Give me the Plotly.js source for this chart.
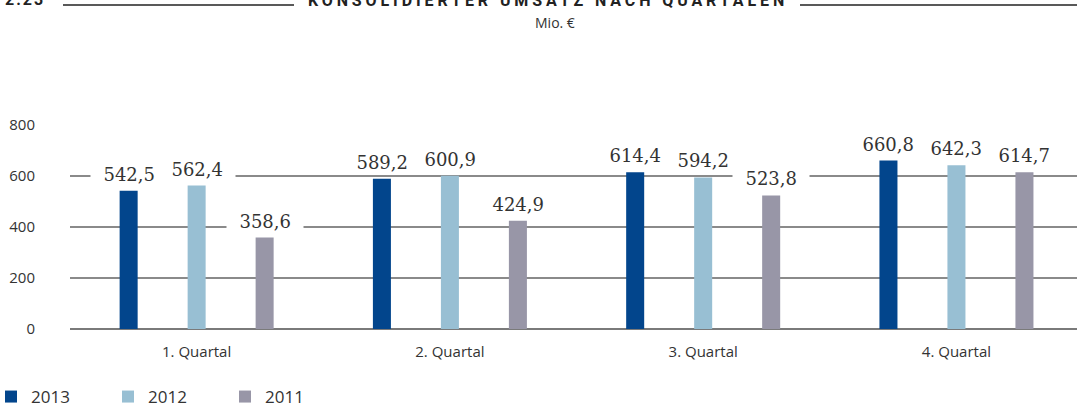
<!DOCTYPE html>
<html>
<head>
<meta charset="utf-8">
<script src="https://cdn.plot.ly/plotly-3.0.1.min.js"></script>
<style>
  html, body { margin: 0; padding: 0; background: #fff; }
  #chart { width: 1077px; height: 403px; }
  .gtitle { letter-spacing: 3.9px; }
  .annotation[data-index="0"] text { letter-spacing: 2px; }
</style>
</head>
<body>
<div id="chart"></div>
<script>
// ---- data ----
var categories = ['1. Quartal', '2. Quartal', '3. Quartal', '4. Quartal'];
var seriesNames = ['2013', '2012', '2011'];
var values2013 = [542.5, 589.2, 614.4, 660.8];
var values2012 = [562.4, 600.9, 594.2, 642.3];
var values2011 = [358.6, 424.9, 523.8, 614.7];
var yTicks = [0, 200, 400, 600, 800];
var chartNumber = '2.23';
var chartTitle = 'KONSOLIDIERTER UMSATZ NACH QUARTALEN';
var unitLabel = 'Mio. €';

// ---- style ----
var colors = ['#02458C', '#98BFD3', '#9896A7'];
var W = 1077, H = 403;
var margin = {l: 70, r: 0, t: 125, b: 74, autoexpand: false};
var bargap = 0.1946, bargroupgap = 0.735;
var allSeries = [values2013, values2012, values2011];

var traces = allSeries.map(function (vals, i) {
  return {
    type: 'bar',
    name: seriesNames[i],
    x: categories,
    y: vals,
    marker: {color: colors[i]},
    hoverinfo: 'none'
  };
});

function fmt(v) { return v.toFixed(1).replace('.', ','); }

var slot = (1 - bargap) / allSeries.length;
var annotations = [];
var plotW = W - margin.l - margin.r, plotH = H - margin.t - margin.b;
function px2paperX(px) { return (px - margin.l) / plotW; }
function px2paperY(py) { return (H - margin.b - py) / plotH; }

// chart number (index 0)
annotations.push({
  text: '<b>' + chartNumber + '</b>',
  xref: 'paper', yref: 'paper',
  x: px2paperX(8), y: px2paperY(6),
  xanchor: 'left', yanchor: 'bottom', yshift: -4,
  showarrow: false, borderpad: 0,
  font: {family: 'Roboto, sans-serif', size: 16, color: '#222'}
});
annotations.push({
  text: unitLabel,
  xref: 'paper', yref: 'paper',
  x: px2paperX(555), y: px2paperY(22),
  xanchor: 'center', yanchor: 'middle',
  showarrow: false,
  font: {family: 'Open Sans, sans-serif', size: 14, color: '#333'}
});

allSeries.forEach(function (vals, s) {
  vals.forEach(function (v, c) {
    annotations.push({
      text: '\u00a0\u00a0' + fmt(v) + '\u00a0\u00a0',
      x: c + (s - (allSeries.length - 1) / 2) * slot,
      y: v,
      xref: 'x', yref: 'y',
      xanchor: 'center', yanchor: 'bottom',
      yshift: 4,
      showarrow: false,
      bgcolor: '#ffffff',
      borderpad: 1,
      font: {family: 'DejaVu Serif, serif', size: 18, color: '#333'}
    });
  });
});

var shapes = [
  {type: 'line', xref: 'paper', yref: 'paper',
   x0: px2paperX(63), x1: px2paperX(294), y0: px2paperY(5), y1: px2paperY(5),
   line: {color: '#222', width: 1.5}},
  {type: 'line', xref: 'paper', yref: 'paper',
   x0: px2paperX(800), x1: px2paperX(1077), y0: px2paperY(5), y1: px2paperY(5),
   line: {color: '#222', width: 1.5}}
];

var layout = {
  width: W, height: H,
  margin: margin,
  paper_bgcolor: '#fff', plot_bgcolor: '#fff',
  barmode: 'group',
  bargap: bargap,
  bargroupgap: bargroupgap,
  showlegend: true,
  title: {
    text: '<b>' + chartTitle + '</b>',
    xref: 'container', yref: 'container',
    x: 548 / W, xanchor: 'center',
    y: 1 - 6 / H, yanchor: 'bottom',
    font: {family: 'Roboto, sans-serif', size: 16, color: '#222'}
  },
  xaxis: {
    type: 'category',
    range: [-0.5, 3.476],
    showgrid: false, zeroline: false, showline: false,
    ticks: '',
    ticklabelstandoff: 12,
    tickfont: {family: 'Open Sans, sans-serif', size: 15, color: '#333'},
    fixedrange: true
  },
  yaxis: {
    range: [0, 800],
    tickvals: yTicks,
    ticktext: yTicks.map(String),
    showgrid: true, gridcolor: '#8a8a8a', gridwidth: 1.5,
    zeroline: true, zerolinecolor: '#7a7a7a', zerolinewidth: 2,
    showline: false, ticks: '',
    ticklabelstandoff: 34,
    tickfont: {family: 'Open Sans, sans-serif', size: 15, color: '#333'},
    fixedrange: true
  },
  legend: {
    orientation: 'h',
    xref: 'paper', yref: 'paper',
    x: px2paperX(-9), xanchor: 'left',
    y: px2paperY(379), yanchor: 'top',
    entrywidth: 72,
    font: {family: 'Open Sans, sans-serif', size: 17, color: '#333'},
    traceorder: 'normal'
  },
  annotations: annotations,
  shapes: shapes
};

Plotly.newPlot('chart', traces, layout, {displayModeBar: false, staticPlot: true});
</script>
</body>
</html>
